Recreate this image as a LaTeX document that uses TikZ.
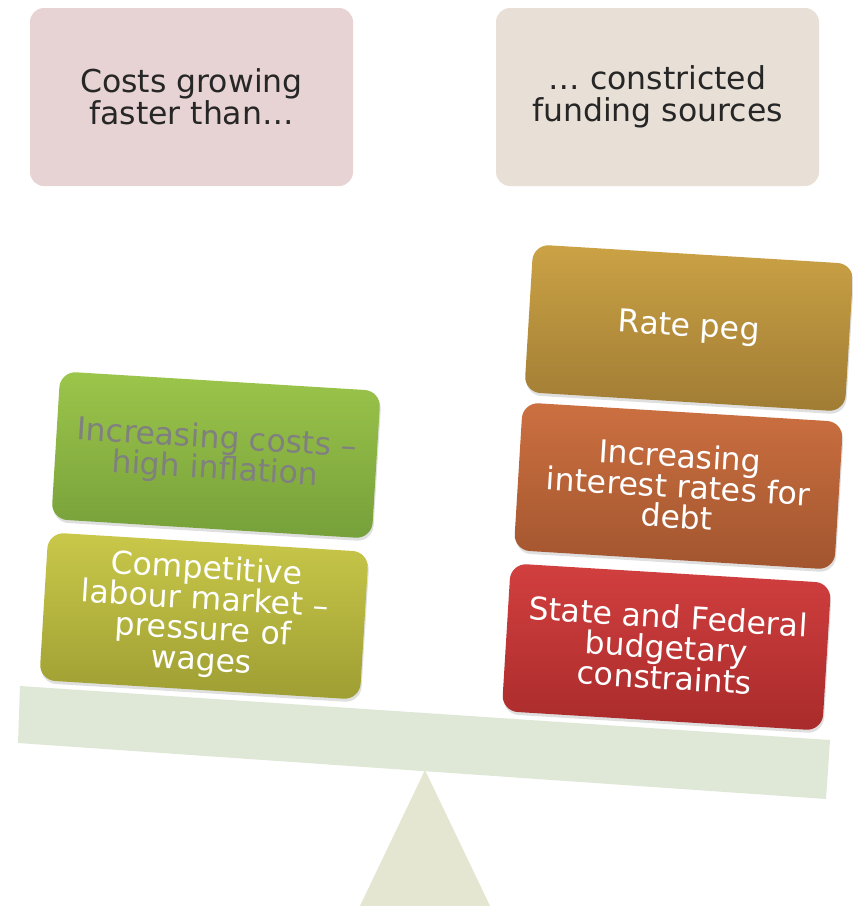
\documentclass[tikz,border=0pt]{standalone}
\usepackage{fontspec}
\setmainfont{DejaVu Sans}
\usetikzlibrary{shadows}

\definecolor{costbg}{HTML}{E8D3D4}
\definecolor{fundbg}{HTML}{E8DFD7}
\definecolor{beamc}{HTML}{DFE8D6}
\definecolor{pivotc}{HTML}{E5E6D2}
\definecolor{greentop}{HTML}{9CC54B}
\definecolor{greenbot}{HTML}{76A03A}
\definecolor{olivetop}{HTML}{C9C84A}
\definecolor{olivebot}{HTML}{9E9E33}
\definecolor{goldtop}{HTML}{CBA245}
\definecolor{goldbot}{HTML}{A07C34}
\definecolor{rusttop}{HTML}{CC7041}
\definecolor{rustbot}{HTML}{A2552E}
\definecolor{redtop}{HTML}{D23F3F}
\definecolor{redbot}{HTML}{A92B2B}

\tikzset{
  headbox/.style={fill=#1, rounded corners=14pt, minimum width=323pt, minimum height=178pt,
    align=center, text=black!85, font=\fontsize{31.5}{32}\selectfont},
  weight/.style={rounded corners=16pt, minimum width=321pt, minimum height=148pt,
    align=center, rotate=-3.5, text=white, top color=#1top, bottom color=#1bot,
    drop shadow={opacity=0.25, shadow xshift=1pt, shadow yshift=-3pt},
    font=\fontsize{31.5}{30.5}\selectfont}
}

\begin{document}
\begin{tikzpicture}[x=1pt, y=-1pt]

\useasboundingbox (0,0) rectangle (853,906);

\coordinate (BL) at (20,686);
\coordinate (BR) at (830,740);
\coordinate (CR) at (826,799);
\coordinate (CL) at (18,743);
\coordinate (T) at (425,770);

\fill[pivotc] (T) -- (492,910) -- (358,910) -- cycle;
\fill[beamc] (BL) -- (BR) -- (CR) -- (CL) -- cycle;

\node[headbox=costbg] (costs) at (191.5,97) {Costs growing\\faster than…};
\node[headbox=fundbg] (funding) at (657.5,97) {… constricted\\funding sources};

\node[weight=green, text=black!50] (inflation) at (216,455)
  {Increasing costs –\\high inflation};
\node[weight=olive] (labour) at (204,616)
  {Competitive\\labour market –\\pressure of\\wages};

\node[weight=gold] (ratepeg) at (689,328) {Rate peg};
\node[weight=rust] (interest) at (678.5,486)
  {Increasing\\interest rates for\\debt};
\node[weight=red] (budget) at (666.5,647)
  {State and Federal\\budgetary\\constraints};

\end{tikzpicture}
\end{document}
